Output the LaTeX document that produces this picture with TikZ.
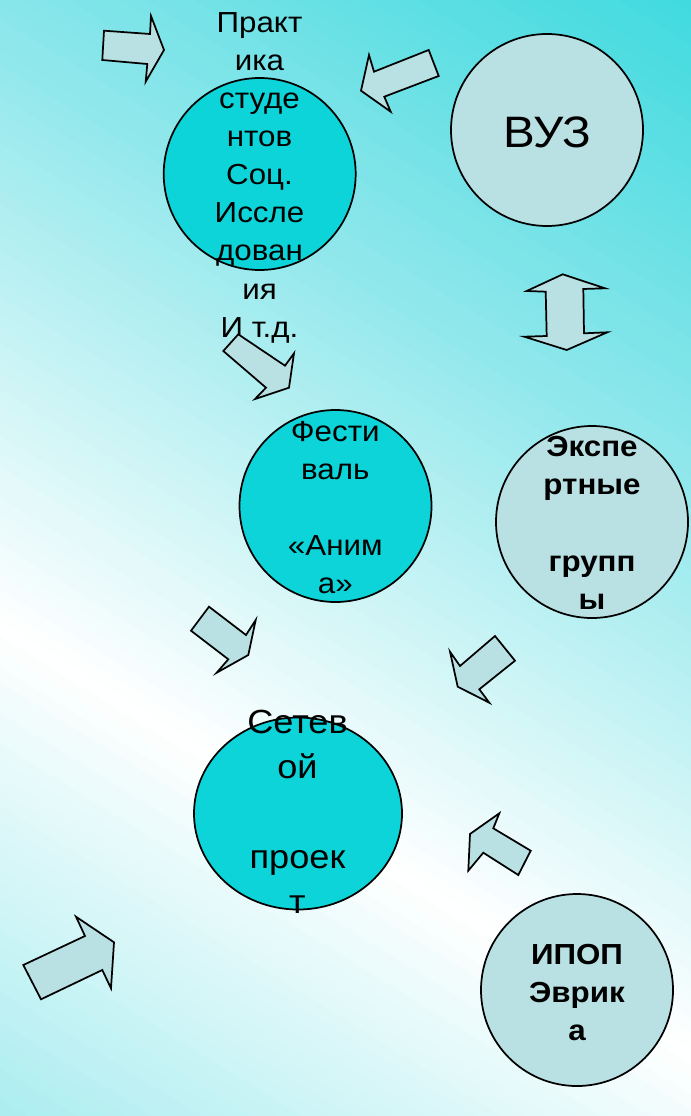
\documentclass[tikz,border=0pt]{standalone}
\usepackage{fontspec}
\setmainfont{Liberation Sans}[FakeStretch=1.08]
\usetikzlibrary{shapes.geometric}
\definecolor{bgA}{HTML}{40DADF}
\definecolor{bgB}{HTML}{8EE7EB}
\definecolor{bgD}{HTML}{ABEDF0}
\definecolor{dcyan}{HTML}{0CD4D8}
\definecolor{lcyan}{HTML}{B9E0E3}
\newcommand\ls{\rule[-0.25\baselineskip]{0pt}{\baselineskip}}
\tikzset{
  ring/.style={circle, draw=black, line width=1.3pt, minimum size=144pt, inner sep=0pt},
  darkring/.style={ring, fill=dcyan},
  lightring/.style={ring, fill=lcyan},
  txt/.style={align=center, inner sep=0pt, outer sep=0pt, text=black},
  blockarrow/.style={draw=black, line width=1.3pt, fill=lcyan, line join=miter}
}
\begin{document}
\begin{tikzpicture}[x=0.75pt,y=-0.75pt]
\useasboundingbox (0,0) rectangle (691,1116);
% background gradient
\begin{scope}
\clip (0,0) rectangle (691,1116);
\foreach \k in {0,...,99}{
  \pgfmathsetmacro\ta{\k*13.126-1}
  \pgfmathsetmacro\tb{(\k+1)*13.126+1}
  \pgfmathsetmacro\ff{\k+0.5}
  \ifdim \ff pt < 30pt
    \pgfmathtruncatemacro\p{\ff/30*100}
    \colorlet{sc}{bgB!\p!bgA}
  \else \ifdim \ff pt < 68pt
    \pgfmathtruncatemacro\p{(\ff-30)/38*100}
    \colorlet{sc}{white!\p!bgB}
  \else
    \pgfmathtruncatemacro\p{(\ff-68)/32*100}
    \colorlet{sc}{bgD!\p!white}
  \fi\fi
  \fill[sc] (691-0.52645*\ta-1190.3, 0.85022*\ta-737) -- (691-0.52645*\ta+1190.3, 0.85022*\ta+737) -- (691-0.52645*\tb+1190.3, 0.85022*\tb+737) -- (691-0.52645*\tb-1190.3, 0.85022*\tb-737) -- cycle;
}
\end{scope}
% circles
\node[darkring] (prak) at (259.7,174) {};
\node[lightring] (vuz) at (547,130) {};
\node[lightring] (exp) at (592,522) {};
\node[darkring] (fest) at (335.5,506) {};
\node[ellipse, draw=black, line width=1.3pt, fill=dcyan, minimum width=156pt, minimum height=144pt, inner sep=0pt] (set) at (298,813.5) {};
\node[lightring] (ipop) at (577,990) {};
% texts
\node[txt, anchor=north, font=\fontsize{21.75pt}{28.62pt}\selectfont] (prakt) at (259.5,3.4)
  {\ls Практ\\ \ls ика\\ \ls студе\\ \ls нтов\\ \ls Соц.\\ \ls Иссле\\ \ls дован\\ \ls ия\\ \ls И т.д.};
\node[txt, anchor=base, font=\fontsize{33pt}{40pt}\selectfont] (vuzt) at (547,148) {ВУЗ};
\node[txt, anchor=north, font=\fontsize{21.75pt}{28.43pt}\selectfont] (festt) at (335.3,413.3)
  {\ls Фести\\ \ls валь\\ \ls\\ \ls «Аним\\ \ls а»};
\node[txt, anchor=north, font=\bfseries\fontsize{21.75pt}{28.7pt}\selectfont] (expt) at (592,428)
  {\ls Экспе\\ \ls ртные\\ \ls\\ \ls групп\\ \ls ы};
\node[txt, anchor=north, font=\fontsize{25.1pt}{33.7pt}\selectfont] (sett) at (297.5,699.6)
  {\ls Сетев\\ \ls ой\\ \ls\\ \ls проек\\ \ls т};
\node[txt, anchor=north, font=\bfseries\fontsize{21.75pt}{28.5pt}\selectfont] (ipopt) at (577,935.5)
  {\ls ИПОП\\ \ls Эврик\\ \ls а};
% block arrows
\draw[blockarrow] (104,30.7) -- (150,34) -- (151,16) -- (164,50) -- (145.7,81.7) -- (147.3,64) -- (102.3,60) -- cycle;
\draw[blockarrow] (428.7,50) -- (438.7,76) -- (384.3,96.7) -- (390.7,111.7) -- (361,90.7) -- (369,55) -- (374,71.7) -- cycle;
\draw[blockarrow] (562.7,274.3) -- (605,288.3) -- (583.3,289) -- (584,333.3) -- (607.3,332.3) -- (566.7,350) -- (524.3,336.7) -- (546.7,336) -- (545.7,291.7) -- (526.7,291) -- cycle;
\draw[blockarrow] (238.3,334.3) -- (285,365.7) -- (294,353.3) -- (289,387.7) -- (255,399) -- (266,387.7) -- (223.3,351) -- cycle;
\draw[blockarrow] (209,606.7) -- (246,635) -- (255.7,620) -- (248.3,655) -- (216.7,672.7) -- (228.3,659.3) -- (191,630.7) -- cycle;
\draw[blockarrow] (495,636) -- (515,660.7) -- (479.3,689.3) -- (489.3,702.7) -- (457.7,686.7) -- (450,651.7) -- (460,666) -- cycle;
\draw[blockarrow] (499.3,813.3) -- (470,834) -- (468.3,870.7) -- (483.3,852.7) -- (518.3,875) -- (530.7,850.7) -- (493.3,828.3) -- cycle;
\draw[blockarrow] (23.3,965) -- (85,936) -- (76,916.7) -- (114,942.3) -- (111,988.3) -- (102.3,970) -- (41,999.3) -- cycle;
\end{tikzpicture}
\end{document}
